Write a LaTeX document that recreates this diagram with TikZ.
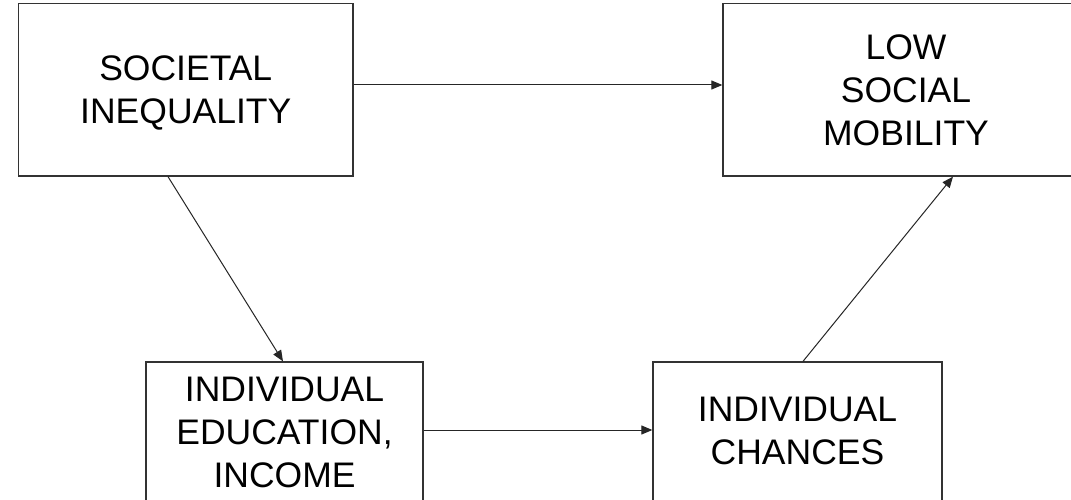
\documentclass[tikz,border=0pt]{standalone}
\usepackage{fontspec}
\setmainfont{Liberation Sans}
\usetikzlibrary{arrows.meta}
\begin{document}
\begin{tikzpicture}[x=1pt,y=-1pt,
  box/.style={draw=black!80, line width=1.3pt, rectangle, inner sep=0pt},
  txt/.style={inner sep=0pt, align=center, font=\fontsize{35.5}{43}\selectfont, text=black},
  arr/.style={draw=black!85, line width=1pt, -{Triangle[length=11pt,width=9pt]}}]
\useasboundingbox (0,0) rectangle (1071,500);
\clip (0,0) rectangle (1071,500);
\fill[white] (0,0) rectangle (1071,500);
\node[box, minimum width=334.5pt, minimum height=172.5pt] (b1) at (185.75,89.75) {};
\node[box, minimum width=366pt, minimum height=172.5pt] (b2) at (906,89.75) {};
\node[box, minimum width=277pt, minimum height=142pt] (b3) at (284.5,433) {};
\node[box, minimum width=289pt, minimum height=142pt] (b4) at (797.5,433) {};
\node[txt] (t1) at ([yshift=-3.5pt]b1.center) {SOCIETAL\\INEQUALITY};
\node[txt] (t2) at ([yshift=-1pt]b2.center) {LOW\\SOCIAL\\MOBILITY};
\node[txt] (t3) at ([yshift=1pt]b3.center) {INDIVIDUAL\\EDUCATION,\\INCOME};
\node[txt] (t4) at ([yshift=2.5pt]b4.center) {INDIVIDUAL\\CHANCES};
\draw[arr] (b1.east |- 0,85) -- (b2.west |- 0,85);
\draw[arr] (b1.south -| 168,0) -- (b3.north -| 283,0);
\draw[arr] (b3.east |- 0,430) -- (b4.west |- 0,430);
\draw[arr] (b4.north -| 803,0) -- (b2.south -| 953,0);
\end{tikzpicture}
\end{document}
